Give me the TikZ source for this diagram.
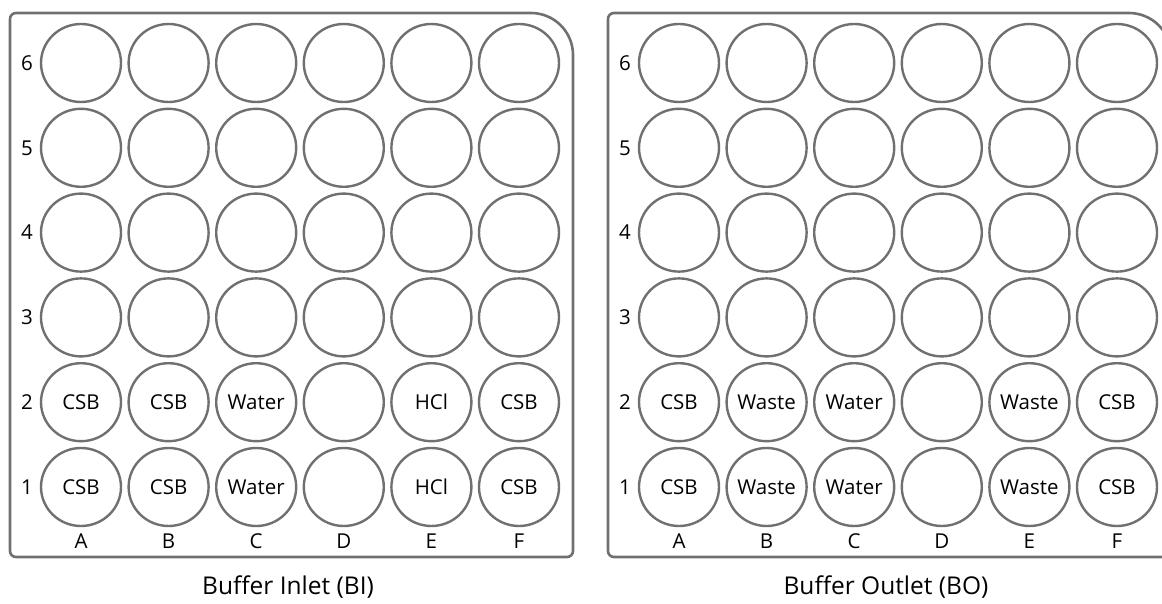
\documentclass[tikz,border=0pt]{standalone}
\usepackage{fontspec}
\setmainfont{Open Sans}
\definecolor{plate}{HTML}{707070}
\tikzset{
  platebox/.style={draw=plate, line width=2.6pt},
  well/.style={draw=plate, line width=2.4pt, ellipse, minimum width=80pt, minimum height=78pt, inner sep=0pt},
  lab/.style={inner sep=0pt, font=\fontsize{20.5}{23}\selectfont},
  title/.style={inner sep=0pt, font=\fontsize{24.5}{28}\selectfont},
}
\usetikzlibrary{shapes.geometric}
\begin{document}
\begin{tikzpicture}[x=1pt,y=-1pt]
\useasboundingbox (0,0) rectangle (1162,604);
\clip (0,0) rectangle (1162,604);
\foreach \off/\pl in {0/L,598/R}{
  \begin{scope}[xshift=\off pt]
  \draw[platebox, rounded corners=6pt] (10,300) -- (10,13) [rounded corners=42pt] -- (573,13) [rounded corners=6pt] -- (573,557) -- (10,557) -- cycle;
  \foreach \c [count=\i from 0] in {A,B,C,D,E,F}{
    \foreach \r in {1,...,6}{
      \node[well] (\pl\c\r) at ({81+\i*87.6},{487-(\r-1)*84.8}) {};
    }
    \node[lab] (\pl col\c) at ({81+\i*87.6},541) {\c};
  }
  \foreach \r in {1,...,6}{
    \node[lab] (\pl row\r) at (27,{487-(\r-1)*84.8}) {\r};
  }
  \end{scope}
}
% contents
\node[lab] at (LA1) {CSB}; \node[lab] at (LA2) {CSB};
\node[lab] at (LB1) {CSB}; \node[lab] at (LB2) {CSB};
\node[lab] at (LC1) {Water}; \node[lab] at (LC2) {Water};
\node[lab] at (LE1) {HCl}; \node[lab] at (LE2) {HCl};
\node[lab] at (LF1) {CSB}; \node[lab] at (LF2) {CSB};
\node[lab] at (RA1) {CSB}; \node[lab] at (RA2) {CSB};
\node[lab] at (RB1) {Waste}; \node[lab] at (RB2) {Waste};
\node[lab] at (RC1) {Water}; \node[lab] at (RC2) {Water};
\node[lab] at (RE1) {Waste}; \node[lab] at (RE2) {Waste};
\node[lab] at (RF1) {CSB}; \node[lab] at (RF2) {CSB};
\node[title] (titleL) at (288,587) {Buffer Inlet (BI)};
\node[title] (titleR) at (886,587) {Buffer Outlet (BO)};
\end{tikzpicture}
\end{document}
